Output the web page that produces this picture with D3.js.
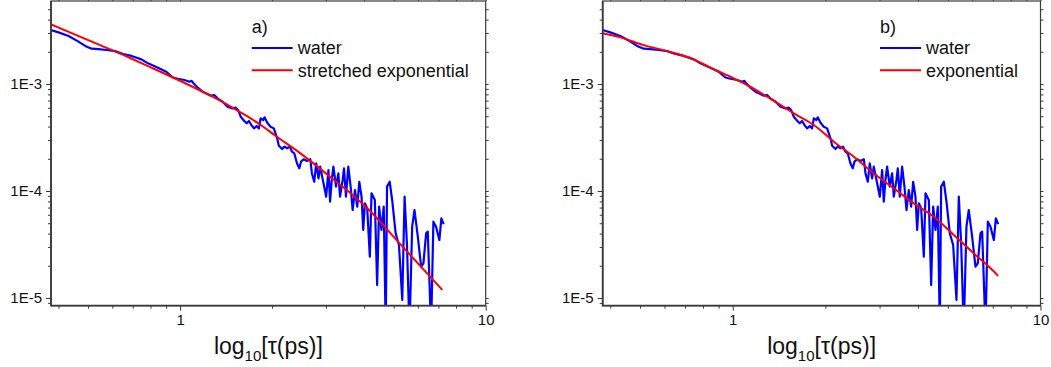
<!DOCTYPE html>
<html><head><meta charset="utf-8">
<script src="https://cdn.jsdelivr.net/npm/d3@7"></script>
<style>
body{margin:0;background:#fff}
svg{display:block}
text{font-family:"Liberation Sans",Arial,sans-serif;fill:#111}
</style>
</head><body>
<svg id="chart" width="1051" height="367"></svg>
<script>
// ---- data ----
const tauWater = [0.378,0.400,0.4315,0.465,0.489,0.514,0.540,0.575,0.612,0.651,0.693,0.747,0.785,0.846,0.901,0.947,0.983,1.033,1.073,1.091,1.108,1.142,1.185,1.230,1.261,1.293,1.326,1.377,1.429,1.483,1.521,1.548,1.579,1.619,1.651,1.680,1.710,1.745,1.780,1.811,1.834,1.871,1.889,1.928,1.976,2.026,2.078,2.104,2.157,2.194,2.239,2.284,2.324,2.364,2.413,2.455,2.486,2.537,2.600,2.667,2.700,2.747,2.788,2.837,2.873,2.946,3.005,3.058,3.096,3.135,3.174,3.238,3.295,3.337,3.404,3.438,3.490,3.551,3.614,3.669,3.733,3.799,3.857,3.924,3.974,4.024,4.095,4.177,4.230,4.337,4.413,4.480,4.559,4.638,4.708,4.755,4.851,4.949,5.074,5.202,5.333,5.427,5.523,5.632,5.746,5.848,5.996,6.148,6.255,6.383,6.463,6.627,6.743,6.879,7.053,7.160,7.286];
const water = [3.20e-3,3.04e-3,2.81e-3,2.49e-3,2.27e-3,2.14e-3,2.12e-3,2.08e-3,2.03e-3,1.91e-3,1.83e-3,1.70e-3,1.56e-3,1.42e-3,1.30e-3,1.15e-3,1.12e-3,1.09e-3,1.05e-3,1.07e-3,1.01e-3,9.24e-4,8.48e-4,8.06e-4,7.78e-4,7.89e-4,7.35e-4,6.84e-4,6.14e-4,5.92e-4,6.01e-4,5.71e-4,4.95e-4,4.54e-4,4.29e-4,4.51e-4,4.14e-4,3.85e-4,4.05e-4,3.85e-4,4.78e-4,4.61e-4,4.88e-4,4.35e-4,3.99e-4,3.85e-4,3.11e-4,2.65e-4,2.47e-4,2.60e-4,2.51e-4,2.60e-4,2.33e-4,2.25e-4,1.81e-4,1.63e-4,1.88e-4,1.98e-4,1.91e-4,1.98e-4,1.46e-4,1.22e-4,1.81e-4,1.31e-4,1.69e-4,1.18e-4,8.85e-5,1.57e-4,7.95e-5,1.27e-4,1.69e-4,1.10e-4,1.46e-4,8.85e-5,1.27e-4,1.63e-4,8.85e-5,1.69e-4,1.10e-4,6.64e-5,1.02e-4,7.14e-5,1.22e-4,8.85e-5,4.32e-5,7.67e-5,6.89e-5,2.43e-5,9.51e-5,8.24e-5,1.32e-5,7.14e-5,4.32e-5,7.14e-5,5e-6,1.10e-4,1.22e-4,7.95e-5,4.02e-5,3.13e-5,9.6e-6,8.85e-5,3.24e-5,5e-6,4.64e-5,6.64e-5,3.74e-5,1.96e-5,2.11e-5,4.02e-5,4.17e-5,5e-6,5.17e-5,4.64e-5,3.48e-5,5.55e-5,4.91e-5];

const tauStretched = [0.378,0.547,0.686,0.798,0.963,1.163,1.352,1.571,1.827,2.046,2.469,3.167,3.598,4.091,5.245,7.21];
const stretched = [3.61e-3,2.31e-3,1.75e-3,1.44e-3,1.126e-3,8.70e-4,7.01e-4,5.47e-4,4.18e-4,3.30e-4,2.26e-4,1.29e-4,9.64e-5,6.93e-5,3.20e-5,1.19e-5];

const tauExp = [0.378,0.4315,0.514,0.612,0.747,0.846,1.008,1.113,1.293,1.579,1.834,2.130,2.474,2.873,3.337,3.875,4.502,5.227,6.072,6.709,7.286];
const expFit = [2.98e-3,2.73e-3,2.31e-3,2.03e-3,1.70e-3,1.42e-3,1.13e-3,9.79e-4,7.61e-4,5.32e-4,4.14e-4,2.89e-4,2.09e-4,1.46e-4,1.06e-4,7.67e-5,5.75e-5,3.88e-5,2.61e-5,2.03e-5,1.61e-5];

const panelLabels = ["a)", "b)"];
const seriesNames = ["water", "stretched exponential", "exponential"];
const xMajorTicks = [1, 10];
const xMajorLabels = ["1", "10"];
const yMajorTicks = [1e-5, 1e-4, 1e-3];
const yMajorLabels = ["1E-5", "1E-4", "1E-3"];
const xDomain = [0.378, 10];
const yDomain = [8.47e-6, 5.97e-3];

// ---- drawing ----
const svg = d3.select("#chart");
const panels = [
  {left: 51, right: 485.7, label: panelLabels[0], fitName: seriesNames[1], fitTau: tauStretched, fitVal: stretched},
  {left: 602.7, right: 1040.5, label: panelLabels[1], fitName: seriesNames[2], fitTau: tauExp, fitVal: expFit}
];
const plotTop = 1, plotBottom = 305.7;
const axisColor = "#3a3a3a";

function minorTicks(domain) {
  const out = [];
  for (let e = -7; e <= 2; e++) {
    for (let m = 2; m <= 9; m++) {
      const v = m * Math.pow(10, e);
      if (v >= domain[0] && v <= domain[1]) out.push(v);
    }
  }
  return out;
}

panels.forEach((p, i) => {
  const x = d3.scaleLog().domain(xDomain).range([p.left, p.right]);
  const y = d3.scaleLog().domain(yDomain).range([plotBottom, plotTop]);
  const g = svg.append("g");

  const clipId = "clip" + i;
  g.append("clipPath").attr("id", clipId).append("rect")
    .attr("x", p.left).attr("y", plotTop).attr("width", p.right - p.left).attr("height", plotBottom - plotTop);

  const line = d3.line().x(d => x(d[0])).y(d => y(d[1]));
  const waterPts = tauWater.map((t, k) => [t, water[k]]);
  const fitPts = p.fitTau.map((t, k) => [t, p.fitVal[k]]);

  const plot = g.append("g").attr("clip-path", `url(#${clipId})`);
  plot.append("path").datum(waterPts).attr("d", line)
    .attr("fill", "none").attr("stroke", "#0000ff").attr("stroke-width", 2.2).attr("stroke-linejoin", "round");
  plot.append("path").datum(fitPts).attr("d", d3.line().curve(d3.curveMonotoneX).x(d => x(d[0])).y(d => y(d[1])))
    .attr("fill", "none").attr("stroke", "#ff0000").attr("stroke-width", 2).attr("stroke-linejoin", "round");

  const xMinor = minorTicks(xDomain);
  const yMinor = minorTicks(yDomain);

  function styleAxis(sel) {
    sel.select(".domain").remove();
    sel.selectAll(".tick line").attr("stroke", axisColor).attr("stroke-width", 1);
    sel.selectAll(".tick text").attr("font-size", 15).attr("fill", "#111")
      .attr("font-family", '"Liberation Sans", Arial, sans-serif');
  }

  // bottom
  g.append("g").attr("transform", `translate(0,${plotBottom})`)
    .call(d3.axisBottom(x).tickValues(xMinor).tickSize(3).tickFormat("")).call(styleAxis);
  g.append("g").attr("transform", `translate(0,${plotBottom})`)
    .call(d3.axisBottom(x).tickValues(xMajorTicks).tickSize(5).tickPadding(4)
      .tickFormat((d, k) => xMajorLabels[k])).call(styleAxis);
  // top
  g.append("g").attr("transform", `translate(0,${plotTop})`)
    .call(d3.axisTop(x).tickValues(xMinor.concat(xMajorTicks)).tickSize(3).tickFormat("")).call(styleAxis);
  // left
  g.append("g").attr("transform", `translate(${p.left},0)`)
    .call(d3.axisLeft(y).tickValues(yMinor).tickSize(3).tickFormat("")).call(styleAxis);
  g.append("g").attr("transform", `translate(${p.left},0)`)
    .call(d3.axisLeft(y).tickValues(yMajorTicks).tickSize(5).tickPadding(4)
      .tickFormat((d, k) => yMajorLabels[k])).call(styleAxis);
  // right
  g.append("g").attr("transform", `translate(${p.right},0)`)
    .call(d3.axisRight(y).tickValues(yMinor.concat(yMajorTicks)).tickSize(3).tickFormat("")).call(styleAxis);

  // frame
  g.append("rect").attr("x", p.left).attr("y", plotTop).attr("width", p.right - p.left).attr("height", plotBottom - plotTop)
    .attr("fill", "none").attr("stroke", axisColor).attr("stroke-width", 1.2);
  g.append("line").attr("x1", p.left).attr("x2", p.left).attr("y1", plotTop).attr("y2", plotBottom + 0.5)
    .attr("stroke", axisColor).attr("stroke-width", 1.8);
  g.append("line").attr("x1", p.left).attr("x2", p.right).attr("y1", plotBottom).attr("y2", plotBottom)
    .attr("stroke", axisColor).attr("stroke-width", 1.8);

  // legend
  const lx = p.left + (i === 0 ? 200.7 : 277.3);
  g.append("text").attr("x", lx).attr("y", 32.5).attr("font-size", 18).text(p.label);
  g.append("line").attr("x1", lx).attr("x2", lx + 41).attr("y1", 48).attr("y2", 48)
    .attr("stroke", "#0000ff").attr("stroke-width", 2);
  g.append("text").attr("x", lx + 46).attr("y", 54.3).attr("font-size", 18).text(seriesNames[0]);
  g.append("line").attr("x1", lx).attr("x2", lx + 41).attr("y1", 70.3).attr("y2", 70.3)
    .attr("stroke", "#ff0000").attr("stroke-width", 2);
  g.append("text").attr("x", lx + 46).attr("y", 76.6).attr("font-size", 18).text(p.fitName);

  // x title
  const t = g.append("text").attr("x", (p.left + p.right) / 2).attr("y", 354)
    .attr("text-anchor", "middle").attr("font-size", 23);
  t.append("tspan").text("log");
  t.append("tspan").attr("font-size", 15).attr("dy", 7).text("10");
  t.append("tspan").attr("dy", -7).text("[\u03C4(ps)]");
});
</script>
</body></html>
